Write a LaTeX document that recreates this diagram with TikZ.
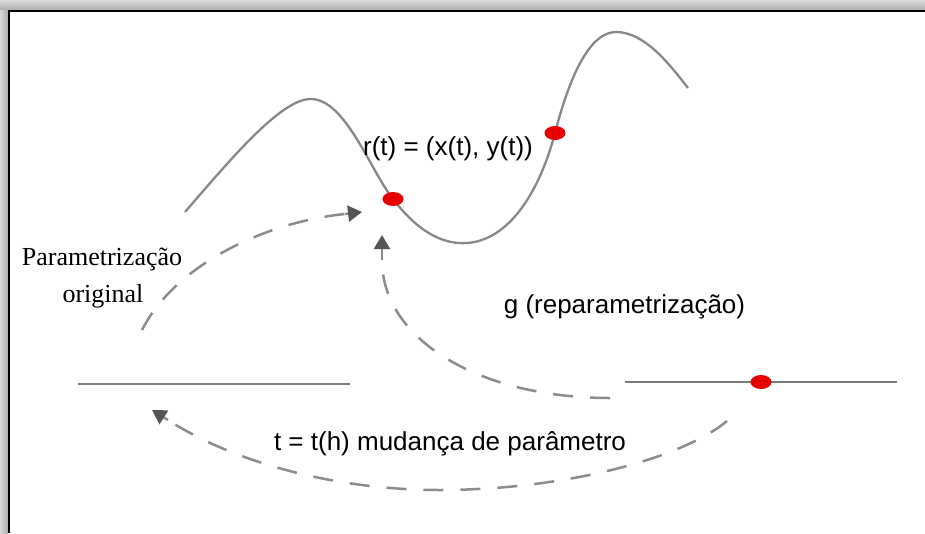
\documentclass[tikz,border=0pt]{standalone}
\usepackage{fontspec}
\setmainfont{Liberation Serif}
\newfontfamily\arialf{Liberation Sans}
\usetikzlibrary{arrows.meta,shapes.geometric}
\definecolor{curvegray}{HTML}{888888}
\definecolor{linegray}{HTML}{7A7A7A}
\definecolor{dashgray}{HTML}{8C8C8C}
\definecolor{tipgray}{HTML}{555555}
\definecolor{dotred}{HTML}{E60000}
\begin{document}
\begin{tikzpicture}[x=1pt,y=-1pt,
  curveline/.style={draw=curvegray,line width=2.3pt},
  axisline/.style={draw=linegray,line width=2.6pt},
  dashpath/.style={draw=dashgray,line width=2.5pt,dash pattern=on 20pt off 17pt},
  tipstub/.style={draw=dashgray,line width=2.5pt,solid,
    -{Triangle[length=14pt,width=16pt,fill=tipgray,color=tipgray]}},
  reddot/.style={ellipse,fill=dotred,draw=none,minimum width=21pt,minimum height=14pt,inner sep=0pt},
  sanslbl/.style={font=\arialf\fontsize{26}{31}\selectfont,inner sep=0pt,anchor=base},
  seriflbl/.style={font=\fontsize{26}{37}\selectfont,inner sep=0pt,anchor=base}]
\useasboundingbox (0,0) rectangle (925,533);
\fill[white] (0,0) rectangle (925,533);
% shadow and frame
\shade[top color=gray!30,bottom color=gray!65] (0,0) rectangle (925,10);
\shade[left color=gray!30,right color=gray!65] (0,10) rectangle (8,533);
\draw[line width=2pt,black] (8.5,533) -- (8.5,11) -- (925,11);
% curve
\draw[curveline] (185,212) .. controls (230,160) and (280,100) .. (310,99)
  .. controls (345,98) and (370,170) .. (393,199)
  .. controls (415,228) and (440,245) .. (467,243)
  .. controls (510,240) and (540,190) .. (555,133)
  .. controls (570,75) and (590,32) .. (616,32)
  .. controls (645,32) and (670,65) .. (688,88);
% horizontal lines
\coordinate (l1) at (78,384);
\coordinate (l2) at (350,384);
\coordinate (r1) at (625,382);
\coordinate (r2) at (897,382);
\draw[axisline] (l1) -- (l2);
\draw[axisline] (r1) -- (r2);
% dots
\node[reddot] (p1) at (393,199) {};
\node[reddot] (p2) at (555,133) {};
\node[reddot] (ph) at (761,382) {};
% arrow endpoints
\coordinate (a1s) at (142,330);
\coordinate (a1k) at (345,214);
\coordinate (a1e) at (362,212);
\coordinate (a2s) at (610,398);
\coordinate (a2k) at (382,260);
\coordinate (a2e) at (382,235);
\coordinate (a3s) at (727,421);
\coordinate (a3m) at (440,490);
\coordinate (a3k) at (168,420);
\coordinate (a3e) at (152,410);
\draw[dashpath] (a1s) .. controls (175,265) and (265,222) .. (a1k);
\draw[tipstub] (a1k) -- (a1e);
\draw[dashpath] (a2s) .. controls (480,398) and (382,340) .. (a2k);
\draw[tipstub] (a2k) -- (a2e);
\draw[dashpath] (a3s) .. controls (680,460) and (560,490) .. (a3m)
  .. controls (330,490) and (230,460) .. (a3k);
\draw[tipstub] (a3k) -- (a3e);
% labels
\node[sanslbl] (rt) at (448,155) {r(t) = (x(t), y(t))};
\node[seriflbl] (po1) at (102,265) {Parametrização};
\node[seriflbl] (po2) at (103,302) {original};
\node[sanslbl] (gl) at (624.5,313) {g (reparametrização)};
\node[sanslbl] (tl) at (450,450) {t = t(h) mudança de parâmetro};
\end{tikzpicture}
\end{document}
